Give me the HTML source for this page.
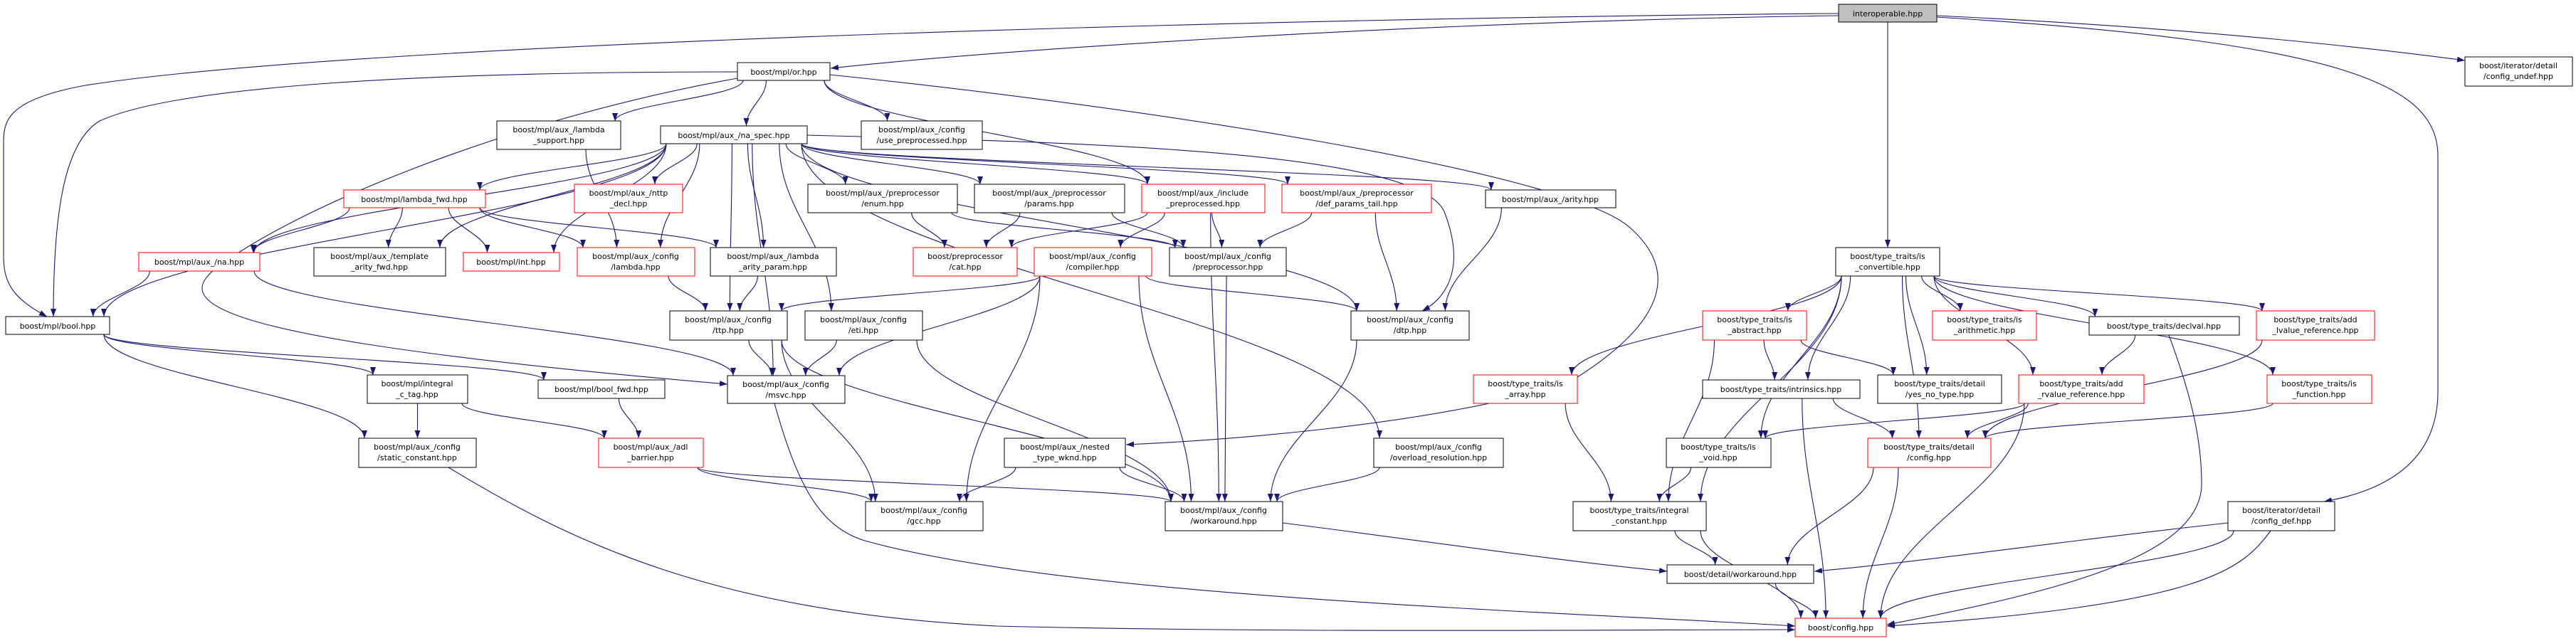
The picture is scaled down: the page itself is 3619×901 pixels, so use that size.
<!DOCTYPE html>
<html><head><meta charset="utf-8">
<style>
html,body{margin:0;padding:0;background:#fff;}
svg{display:block;}
text{font-family:"DejaVu Sans","Liberation Sans",sans-serif;font-size:11px;fill:#000;}
</style></head>
<body>
<svg id="g" xmlns="http://www.w3.org/2000/svg" width="3619" height="901" viewBox="0 0 3619 901">
<defs>
<marker id="ah" viewBox="0 0 10 10" refX="10" refY="5" markerWidth="11" markerHeight="8" markerUnits="userSpaceOnUse" orient="auto" preserveAspectRatio="none">
<path d="M0,0 L10,5 L0,10 z" fill="#191970"/>
</marker>
</defs>
<g id="edges" fill="none" stroke="#191970" stroke-width="1.1"></g>
<g id="nodes">
<rect x="2583" y="6" width="138" height="25" fill="#bfbfbf" stroke="#000"/><text x="2652" y="23" text-anchor="middle">interoperable.hpp</text>
<rect x="1036" y="88" width="130" height="25" fill="#fff" stroke="#000"/><text x="1101" y="105" text-anchor="middle">boost/mpl/or.hpp</text>
<rect x="928" y="177" width="206" height="25" fill="#fff" stroke="#000"/><text x="1031" y="194" text-anchor="middle">boost/mpl/aux_/na_spec.hpp</text>
<rect x="698" y="170" width="174" height="40" fill="#fff" stroke="#000"/><text x="785" y="186" text-anchor="middle">boost/mpl/aux_/lambda</text><text x="785" y="201" text-anchor="middle">_support.hpp</text>
<rect x="1210" y="170" width="170" height="40" fill="#fff" stroke="#000"/><text x="1295" y="186" text-anchor="middle">boost/mpl/aux_/config</text><text x="1295" y="201" text-anchor="middle">/use_preprocessed.hpp</text>
<rect x="483" y="267" width="199" height="25" fill="#fff" stroke="#f00"/><text x="582" y="284" text-anchor="middle">boost/mpl/lambda_fwd.hpp</text>
<rect x="807" y="259" width="152" height="40" fill="#fff" stroke="#f00"/><text x="883" y="275" text-anchor="middle">boost/mpl/aux_/nttp</text><text x="883" y="290" text-anchor="middle">_decl.hpp</text>
<rect x="195" y="355" width="170" height="26" fill="#fff" stroke="#f00"/><text x="280" y="372" text-anchor="middle">boost/mpl/aux_/na.hpp</text>
<rect x="441" y="348" width="185" height="40" fill="#fff" stroke="#000"/><text x="533" y="364" text-anchor="middle">boost/mpl/aux_/template</text><text x="533" y="379" text-anchor="middle">_arity_fwd.hpp</text>
<rect x="651" y="355" width="135" height="26" fill="#fff" stroke="#f00"/><text x="718" y="372" text-anchor="middle">boost/mpl/int.hpp</text>
<rect x="811" y="348" width="165" height="40" fill="#fff" stroke="#f00"/><text x="893" y="364" text-anchor="middle">boost/mpl/aux_/config</text><text x="893" y="379" text-anchor="middle">/lambda.hpp</text>
<rect x="8" y="445" width="146" height="25" fill="#fff" stroke="#000"/><text x="81" y="462" text-anchor="middle">boost/mpl/bool.hpp</text>
<rect x="1135" y="259" width="210" height="40" fill="#fff" stroke="#000"/><text x="1240" y="275" text-anchor="middle">boost/mpl/aux_/preprocessor</text><text x="1240" y="290" text-anchor="middle">/enum.hpp</text>
<rect x="1369" y="259" width="211" height="40" fill="#fff" stroke="#000"/><text x="1474" y="275" text-anchor="middle">boost/mpl/aux_/preprocessor</text><text x="1474" y="290" text-anchor="middle">/params.hpp</text>
<rect x="1604" y="259" width="173" height="40" fill="#fff" stroke="#f00"/><text x="1690" y="275" text-anchor="middle">boost/mpl/aux_/include</text><text x="1690" y="290" text-anchor="middle">_preprocessed.hpp</text>
<rect x="1801" y="259" width="210" height="40" fill="#fff" stroke="#f00"/><text x="1906" y="275" text-anchor="middle">boost/mpl/aux_/preprocessor</text><text x="1906" y="290" text-anchor="middle">/def_params_tail.hpp</text>
<rect x="2087" y="267" width="183" height="25" fill="#fff" stroke="#000"/><text x="2178" y="284" text-anchor="middle">boost/mpl/aux_/arity.hpp</text>
<rect x="998" y="348" width="177" height="40" fill="#fff" stroke="#000"/><text x="1086" y="364" text-anchor="middle">boost/mpl/aux_/lambda</text><text x="1086" y="379" text-anchor="middle">_arity_param.hpp</text>
<rect x="1283" y="348" width="146" height="40" fill="#fff" stroke="#f00"/><text x="1356" y="364" text-anchor="middle">boost/preprocessor</text><text x="1356" y="379" text-anchor="middle">/cat.hpp</text>
<rect x="1453" y="348" width="165" height="40" fill="#fff" stroke="#f00"/><text x="1535" y="364" text-anchor="middle">boost/mpl/aux_/config</text><text x="1535" y="379" text-anchor="middle">/compiler.hpp</text>
<rect x="1643" y="348" width="164" height="40" fill="#fff" stroke="#000"/><text x="1725" y="364" text-anchor="middle">boost/mpl/aux_/config</text><text x="1725" y="379" text-anchor="middle">/preprocessor.hpp</text>
<rect x="941" y="437" width="165" height="41" fill="#fff" stroke="#000"/><text x="1023" y="453" text-anchor="middle">boost/mpl/aux_/config</text><text x="1023" y="468" text-anchor="middle">/ttp.hpp</text>
<rect x="1131" y="437" width="165" height="41" fill="#fff" stroke="#000"/><text x="1213" y="453" text-anchor="middle">boost/mpl/aux_/config</text><text x="1213" y="468" text-anchor="middle">/eti.hpp</text>
<rect x="1898" y="437" width="166" height="41" fill="#fff" stroke="#000"/><text x="1981" y="453" text-anchor="middle">boost/mpl/aux_/config</text><text x="1981" y="468" text-anchor="middle">/dtp.hpp</text>
<rect x="1022" y="528" width="165" height="39" fill="#fff" stroke="#000"/><text x="1104" y="544" text-anchor="middle">boost/mpl/aux_/config</text><text x="1104" y="559" text-anchor="middle">/msvc.hpp</text>
<rect x="1411" y="616" width="170" height="41" fill="#fff" stroke="#000"/><text x="1496" y="632" text-anchor="middle">boost/mpl/aux_/nested</text><text x="1496" y="647" text-anchor="middle">_type_wknd.hpp</text>
<rect x="1930" y="616" width="182" height="41" fill="#fff" stroke="#000"/><text x="2021" y="632" text-anchor="middle">boost/mpl/aux_/config</text><text x="2021" y="647" text-anchor="middle">/overload_resolution.hpp</text>
<rect x="1216" y="705" width="165" height="41" fill="#fff" stroke="#000"/><text x="1298" y="721" text-anchor="middle">boost/mpl/aux_/config</text><text x="1298" y="736" text-anchor="middle">/gcc.hpp</text>
<rect x="1637" y="705" width="165" height="41" fill="#fff" stroke="#000"/><text x="1719" y="721" text-anchor="middle">boost/mpl/aux_/config</text><text x="1719" y="736" text-anchor="middle">/workaround.hpp</text>
<rect x="516" y="527" width="141" height="40" fill="#fff" stroke="#000"/><text x="586" y="543" text-anchor="middle">boost/mpl/integral</text><text x="586" y="558" text-anchor="middle">_c_tag.hpp</text>
<rect x="756" y="534" width="178" height="26" fill="#fff" stroke="#000"/><text x="845" y="551" text-anchor="middle">boost/mpl/bool_fwd.hpp</text>
<rect x="504" y="616" width="165" height="41" fill="#fff" stroke="#000"/><text x="586" y="632" text-anchor="middle">boost/mpl/aux_/config</text><text x="586" y="647" text-anchor="middle">/static_constant.hpp</text>
<rect x="841" y="616" width="147" height="41" fill="#fff" stroke="#f00"/><text x="914" y="632" text-anchor="middle">boost/mpl/aux_/adl</text><text x="914" y="647" text-anchor="middle">_barrier.hpp</text>
<rect x="2579" y="348" width="146" height="40" fill="#fff" stroke="#000"/><text x="2652" y="364" text-anchor="middle">boost/type_traits/is</text><text x="2652" y="379" text-anchor="middle">_convertible.hpp</text>
<rect x="2392" y="437" width="146" height="41" fill="#fff" stroke="#f00"/><text x="2465" y="453" text-anchor="middle">boost/type_traits/is</text><text x="2465" y="468" text-anchor="middle">_abstract.hpp</text>
<rect x="2715" y="437" width="146" height="41" fill="#fff" stroke="#f00"/><text x="2788" y="453" text-anchor="middle">boost/type_traits/is</text><text x="2788" y="468" text-anchor="middle">_arithmetic.hpp</text>
<rect x="2935" y="445" width="211" height="26" fill="#fff" stroke="#000"/><text x="3040" y="462" text-anchor="middle">boost/type_traits/declval.hpp</text>
<rect x="3170" y="437" width="166" height="41" fill="#fff" stroke="#f00"/><text x="3253" y="453" text-anchor="middle">boost/type_traits/add</text><text x="3253" y="468" text-anchor="middle">_lvalue_reference.hpp</text>
<rect x="3185" y="527" width="147" height="40" fill="#fff" stroke="#f00"/><text x="3258" y="543" text-anchor="middle">boost/type_traits/is</text><text x="3258" y="558" text-anchor="middle">_function.hpp</text>
<rect x="2070" y="527" width="146" height="40" fill="#fff" stroke="#f00"/><text x="2143" y="543" text-anchor="middle">boost/type_traits/is</text><text x="2143" y="558" text-anchor="middle">_array.hpp</text>
<rect x="2392" y="534" width="221" height="26" fill="#fff" stroke="#000"/><text x="2502" y="551" text-anchor="middle">boost/type_traits/intrinsics.hpp</text>
<rect x="2638" y="527" width="174" height="40" fill="#fff" stroke="#000"/><text x="2725" y="543" text-anchor="middle">boost/type_traits/detail</text><text x="2725" y="558" text-anchor="middle">/yes_no_type.hpp</text>
<rect x="2836" y="527" width="176" height="40" fill="#fff" stroke="#f00"/><text x="2924" y="543" text-anchor="middle">boost/type_traits/add</text><text x="2924" y="558" text-anchor="middle">_rvalue_reference.hpp</text>
<rect x="2341" y="616" width="147" height="41" fill="#fff" stroke="#000"/><text x="2414" y="632" text-anchor="middle">boost/type_traits/is</text><text x="2414" y="647" text-anchor="middle">_void.hpp</text>
<rect x="2624" y="616" width="173" height="41" fill="#fff" stroke="#f00"/><text x="2710" y="632" text-anchor="middle">boost/type_traits/detail</text><text x="2710" y="647" text-anchor="middle">/config.hpp</text>
<rect x="2210" y="705" width="187" height="41" fill="#fff" stroke="#000"/><text x="2303" y="721" text-anchor="middle">boost/type_traits/integral</text><text x="2303" y="736" text-anchor="middle">_constant.hpp</text>
<rect x="2342" y="794" width="206" height="26" fill="#fff" stroke="#000"/><text x="2445" y="811" text-anchor="middle">boost/detail/workaround.hpp</text>
<rect x="2522" y="869" width="128" height="26" fill="#fff" stroke="#f00"/><text x="2586" y="886" text-anchor="middle">boost/config.hpp</text>
<rect x="3463" y="80" width="151" height="41" fill="#fff" stroke="#000"/><text x="3538" y="96" text-anchor="middle">boost/iterator/detail</text><text x="3538" y="111" text-anchor="middle">/config_undef.hpp</text>
<rect x="3130" y="705" width="150" height="41" fill="#fff" stroke="#000"/><text x="3205" y="721" text-anchor="middle">boost/iterator/detail</text><text x="3205" y="736" text-anchor="middle">/config_def.hpp</text>
</g>
</svg>
<script>
(function(){
var N={I:[2583,6,138,25],OR:[1036,88,130,25],NS:[928,177,206,25],LS:[698,170,174,40],UP:[1210,170,170,40],
LF:[483,267,199,25],NT:[807,259,152,40],NA:[195,355,170,26],TAF:[441,348,185,40],INT:[651,355,135,26],CL:[811,348,165,40],
BOOL:[8,445,146,25],PE:[1135,259,210,40],PP:[1369,259,211,40],IP:[1604,259,173,40],DPT:[1801,259,210,40],AR:[2087,267,183,25],
LAP:[998,348,177,40],CAT:[1283,348,146,40],CMP:[1453,348,165,40],CPP:[1643,348,164,40],TTP:[941,437,165,41],ETI:[1131,437,165,41],
DTP:[1898,437,166,41],MSVC:[1022,528,165,39],NTW:[1411,616,170,41],OVR:[1930,616,182,41],GCC:[1216,705,165,41],WA:[1637,705,165,41],
ICT:[516,527,141,40],BF:[756,534,178,26],SC:[504,616,165,41],ADL:[841,616,147,41],ISC:[2579,348,146,40],ABS:[2392,437,146,41],
ARI:[2715,437,146,41],DV:[2935,445,211,26],ALR:[3170,437,166,41],ISF:[3185,527,147,40],ISA:[2070,527,146,40],INTR:[2392,534,221,26],
YN:[2638,527,174,40],ARR:[2836,527,176,40],VOID:[2341,616,147,41],DC:[2624,616,173,41],IC:[2210,705,187,41],DW:[2342,794,206,26],
CFG:[2522,869,128,26],CU:[3463,80,151,41],CD:[3130,705,150,41]};
var E="OR-LS OR-UP OR-IP OR-NS NS-LF NS-NT NS-NA NS-TAF NS-INT NS-CL NS-BOOL NS-PE NS-PP NS-IP NS-DPT NS-AR NS-LAP NS-TTP NS-ETI NS-DTP NS-MSVC NS-OVR "+
"LS-CL LF-NA LF-TAF LF-INT LF-CL LF-LAP NA-BOOL NA-MSVC CL-TTP LAP-TTP PE-CAT PE-CPP PP-CAT PP-CPP IP-CAT IP-CMP IP-CPP IP-WA DPT-CPP DPT-DTP AR-DTP "+
"CMP-TTP CMP-MSVC CMP-GCC CMP-WA CMP-DTP CPP-WA TTP-MSVC TTP-GCC TTP-WA ETI-MSVC ETI-WA DTP-WA NTW-GCC NTW-WA OVR-WA BOOL-ICT BOOL-BF BOOL-SC "+
"ICT-SC ICT-ADL BF-ADL ADL-GCC ADL-WA I-ISC ISC-ABS ISC-ARI ISC-DV ISC-ALR ISC-ISF ISC-ISA ISC-INTR ISC-YN ISC-ARR ISC-VOID ISC-DC ISC-IC "+
"ABS-INTR ABS-YN ABS-IC DV-ARR ARR-VOID ARR-CFG ARR-DC ISF-DC ISA-IC INTR-DC INTR-CFG VOID-IC DC-DW DC-CFG IC-DW IC-CFG DW-CFG CD-CFG ALR-DC";
var custom=[
"M2583,22 C2000,30 1400,70 1167,96",
"M2583,19 C1800,25 500,60 120,120 C10,140 5,170 5,200 L5,360 C5,400 20,420 66,445",
"M1036,101 C600,101 250,120 140,170 C90,200 75,300 75,445",
"M1036,110 C700,170 400,300 300,380 C240,430 320,480 1022,540",
"M1166,105 C1600,150 2200,240 2290,320 C2380,400 2300,480 2200,540 C2000,600 1700,620 1582,625",
"M2721,22 C3100,40 3350,70 3463,85",
"M2721,24 C3300,60 3425,120 3425,220 L3425,550 C3425,650 3350,690 3265,705",
"M1088,567 C1120,680 1150,740 1215,760 C1500,840 2200,860 2522,880",
"M630,657 C800,760 1000,860 1400,880 C1800,890 2300,885 2522,885",
"M3190,746 C3150,800 3100,850 2651,880",
"M3047,471 C3080,560 3093,620 3093,680 C3093,780 2900,830 2651,878",
"M1802,735 C2000,760 2200,790 2342,803",
"M3130,735 C2900,760 2700,790 2549,803",
"M1134,190 C1500,200 2000,210 2030,300 C2060,380 2030,420 1998,437"
];
var g=document.getElementById('edges'),ns="http://www.w3.org/2000/svg";
function add(d){var p=document.createElementNS(ns,'path');p.setAttribute('d',d);p.setAttribute('marker-end','url(#ah)');g.appendChild(p);}
custom.forEach(add);
E.split(' ').forEach(function(e){
 var a=e.split('-'),s=N[a[0]],t=N[a[1]];
 var sc=s[0]+s[2]/2,tc=t[0]+t[2]/2,sy=s[1]+s[3],ty=t[1];
 if(ty>sy+5){
  var sx=sc+(tc-sc)*0.35; sx=Math.max(s[0]+8,Math.min(s[0]+s[2]-8,sx));
  var tx=tc+(sc-tc)*0.25; tx=Math.max(t[0]+8,Math.min(t[0]+t[2]-8,tx));
  var dy=ty-sy;
  add("M"+sx+","+sy+" C"+sx+","+(sy+dy*0.4)+" "+tx+","+(ty-dy*0.4)+" "+tx+","+ty);
 } else {
  var y1=s[1]+s[3]/2,y2=t[1]+t[3]/2,x1,x2;
  if(tc<sc){x1=s[0];x2=t[0]+t[2];}else{x1=s[0]+s[2];x2=t[0];}
  var mx=(x1+x2)/2;
  add("M"+x1+","+y1+" C"+mx+","+y1+" "+mx+","+y2+" "+x2+","+y2);
 }
});
})();
</script>
</body></html>
